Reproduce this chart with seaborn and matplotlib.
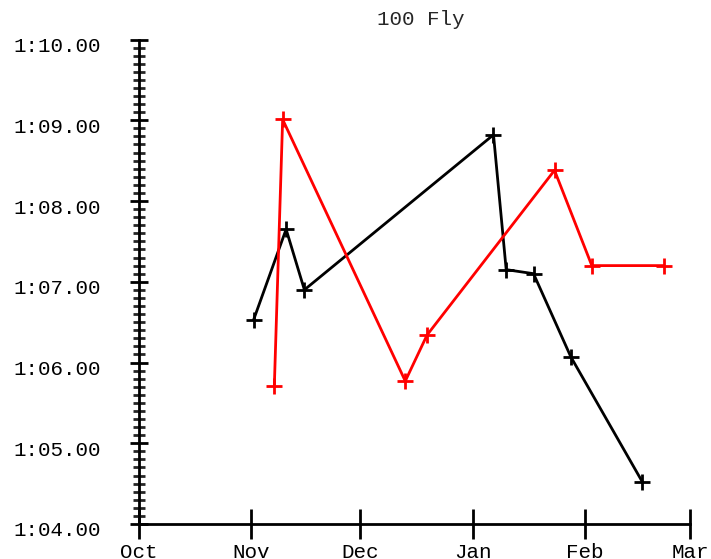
import matplotlib
matplotlib.use("Agg")
import matplotlib.pyplot as plt
import matplotlib.dates as mdates
import matplotlib.ticker as mticker
from matplotlib.transforms import ScaledTranslation
import seaborn as sns
import pandas as pd

# ---- data ----
black_dates = ["2023-11-01 15:00", "2023-11-10 14:00", "2023-11-15 15:00",
               "2024-01-06 19:00", "2024-01-10 07:00", "2024-01-17 20:00",
               "2024-01-28 03:00", "2024-02-16 21:00"]
black_times = [66.53, 67.65, 66.90, 68.82, 67.15, 67.10, 66.07, 64.52]

red_dates = ["2023-11-07 08:00", "2023-11-09 15:00", "2023-12-13 11:00",
             "2023-12-19 11:00", "2024-01-23 15:00", "2024-02-02 22:00",
             "2024-02-22 20:00"]
red_times = [65.71, 69.01, 65.77, 66.34, 68.38, 67.20, 67.20]

series_names = ["black", "red"]
series_colors = ["#000000", "#ff0000"]
title_text = "100 Fly"

df = pd.concat([
    pd.DataFrame({"date": pd.to_datetime(black_dates), "time": black_times, "series": series_names[0]}),
    pd.DataFrame({"date": pd.to_datetime(red_dates), "time": red_times, "series": series_names[1]}),
], ignore_index=True)

sns.set_style("white")
mono = ["Liberation Mono", "DejaVu Sans Mono"]
plt.rcParams["font.family"] = mono

fig = plt.figure(figsize=(7.11, 5.59), dpi=100)
ax = fig.add_axes([139 / 711, 35 / 559, (690 - 139) / 711, (524 - 39.5) / 559])

sns.lineplot(data=df, x="date", y="time", hue="series", hue_order=series_names,
             palette=dict(zip(series_names, series_colors)), sort=False,
             marker="+", markersize=11, markeredgewidth=2, linewidth=2.0,
             legend=False, ax=ax)
for ln in ax.get_lines():
    ln.set_markeredgecolor(ln.get_color())
    ln.set_markerfacecolor(ln.get_color())

ax.set_xlim(pd.Timestamp("2023-10-01"), pd.Timestamp("2024-03-01"))
ax.set_ylim(64, 70)

ax.xaxis.set_major_locator(mdates.MonthLocator())
ax.xaxis.set_major_formatter(mdates.DateFormatter("%b"))
ax.yaxis.set_major_locator(mticker.MultipleLocator(1))
ax.yaxis.set_minor_locator(mticker.MultipleLocator(0.1))
ax.yaxis.set_major_formatter(mticker.FuncFormatter(lambda v, p: "%d:%05.2f" % (int(v // 60), v % 60)))

for s in ["top", "right"]:
    ax.spines[s].set_visible(False)
for s in ["left", "bottom"]:
    ax.spines[s].set_linewidth(2.0)
    ax.spines[s].set_color("black")

ax.tick_params(axis="y", which="major", direction="inout", length=12.7, width=2.0,
               pad=21, labelsize=15, colors="black", left=True)
ax.tick_params(axis="y", which="minor", direction="inout", length=8, width=2.0, left=True)
ax.tick_params(axis="x", which="major", direction="inout", length=21, width=2.0,
               pad=3, labelsize=15, colors="black", bottom=True)

for lab in ax.get_yticklabels():
    lab.set_transform(lab.get_transform() + ScaledTranslation(0, -5 / 100, fig.dpi_scale_trans))

ax.set_xlabel("")
ax.set_ylabel("")
ax.set_title(title_text, fontsize=15, pad=10.4, x=0.511, family=mono)

fig.savefig("out.png", dpi=100)
